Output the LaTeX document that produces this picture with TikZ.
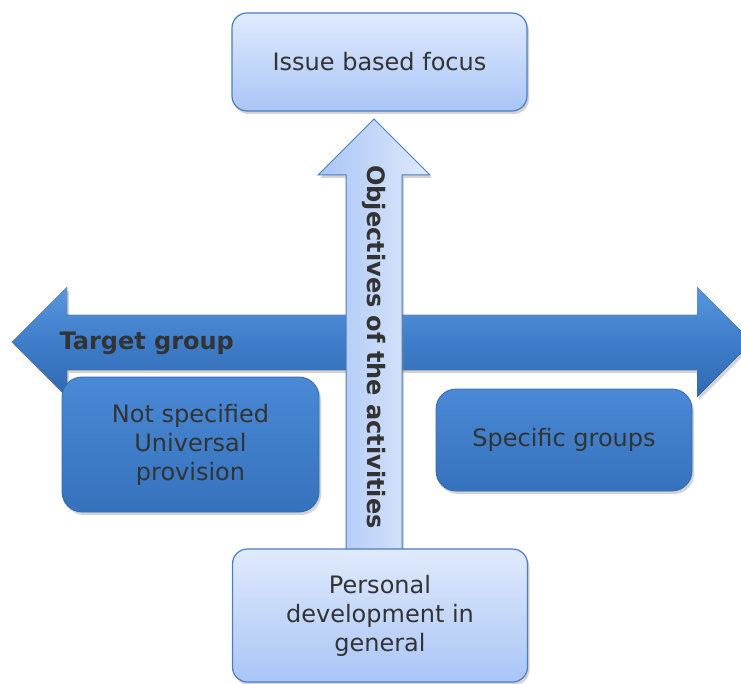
\documentclass[tikz,border=0pt]{standalone}
\usepackage{fontspec}
\setmainfont{DejaVu Sans}
\usetikzlibrary{shadows}

\definecolor{edgeblue}{HTML}{4A7EBB}
\definecolor{lighttop}{HTML}{E0EAFC}
\definecolor{lightbot}{HTML}{A9C5F6}
\definecolor{darktop}{HTML}{4A89D6}
\definecolor{darkbot}{HTML}{3672BC}
\definecolor{arrowtop}{HTML}{5A96DE}
\definecolor{arrowmid}{HTML}{3E7DCA}
\definecolor{arrowbot}{HTML}{3169B0}
\definecolor{textgray}{HTML}{333333}

\tikzset{
  boxshadow/.style={drop shadow={opacity=0.35,shadow xshift=2pt,shadow yshift=-3pt}},
  lightbox/.style={draw=edgeblue,line width=1.2pt,rounded corners=15pt,
    top color=lighttop,bottom color=lightbot,text=textgray,align=center,
    font=\fontsize{24}{29}\selectfont,boxshadow},
  darkbox/.style={draw=arrowbot,line width=0.8pt,rounded corners=20pt,
    top color=darktop,bottom color=darkbot,text=textgray,align=center,
    font=\fontsize{24}{29}\selectfont,boxshadow},
}

\begin{document}
\begin{tikzpicture}[x=1pt,y=-1pt]
\useasboundingbox (0,0) rectangle (741,684);

% target group axis
\coordinate (lefttip) at (12,342);
\coordinate (righttip) at (752,342);
\fill[top color=arrowtop,bottom color=arrowbot,middle color=arrowmid,boxshadow]
  (lefttip) -- (67,287) -- (67,315) -- (697,315) -- (697,287) -- (righttip)
  -- (697,397) -- (697,370) -- (67,370) -- (67,397) -- cycle;
\node[font=\bfseries\fontsize{24}{29}\selectfont,text=textgray,anchor=west] (target) at (56,343) {Target group};

% objectives axis
\coordinate (uptip) at (374,119);
\draw[edgeblue,line width=1pt,left color=lightbot,right color=lighttop,boxshadow]
  (uptip) -- (430,175) -- (402,175) -- (402,560) -- (346,560) -- (346,175) -- (318,175) -- cycle;
\node[rotate=-90,font=\bfseries\fontsize{24}{29}\selectfont,text=textgray] (objectives) at (374,347) {Objectives of the activities};

\node[lightbox,minimum width=295pt,minimum height=98pt] (issue) at (379.5,62) {Issue based focus};
\node[lightbox,minimum width=295pt,minimum height=133pt] (personal) at (380,615.5) {Personal\\development in\\general};
\node[darkbox,minimum width=257pt,minimum height=135pt] (notspec) at (190.5,444.5) {Not specified\\Universal\\provision};
\node[darkbox,minimum width=256pt,minimum height=102pt] (specific) at (564,440) {Specific groups};
\end{tikzpicture}
\end{document}
